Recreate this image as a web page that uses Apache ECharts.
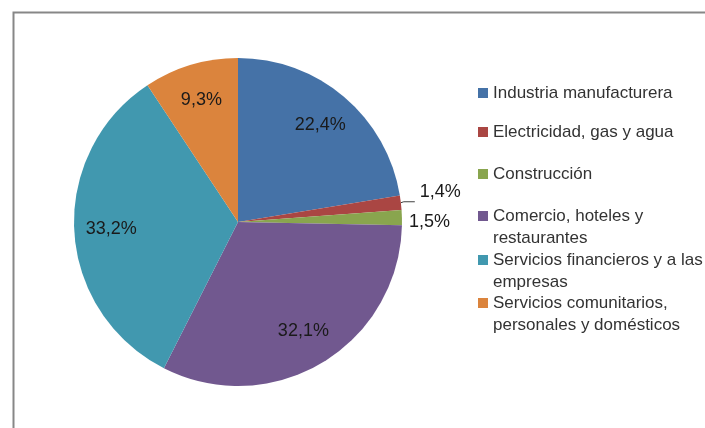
<!DOCTYPE html>
<html>
<head>
<meta charset="utf-8">
<script src="https://cdn.jsdelivr.net/npm/echarts@6/dist/echarts.min.js"></script>
<style>html,body{margin:0;padding:0;background:#fff}#c{width:705px;height:428px}</style>
</head>
<body>
<div id="c"></div>
<script>
const categories = [
  "Industria manufacturera",
  "Electricidad, gas y agua",
  "Construcción",
  "Comercio, hoteles y restaurantes",
  "Servicios financieros y a las empresas",
  "Servicios comunitarios, personales y domésticos"
];
const legendText = [
  "Industria manufacturera",
  "Electricidad, gas y agua",
  "Construcción",
  "\nComercio, hoteles y\nrestaurantes",
  "\nServicios financieros y a las\nempresas",
  "\nServicios comunitarios,\npersonales y domésticos"
];
const values = [22.4, 1.4, 1.5, 32.1, 33.2, 9.3];
const colors = ["#4572A7", "#AA4643", "#89A54E", "#71588F", "#4198AF", "#DB843D"];

const FONT = "Liberation Sans";
const legendTops = [82, 121, 163, 183, 227, 270];

const chart = echarts.init(document.getElementById('c'), null, {renderer: 'canvas'});

const legends = categories.map((name, i) => ({
  data: [name],
  left: 478,
  top: legendTops[i],
  orient: 'vertical',
  padding: 0,
  itemWidth: 10,
  itemHeight: 10,
  itemGap: 0,
  icon: 'rect',
  selectedMode: false,
  formatter: () => legendText[i],
  textStyle: {fontFamily: FONT, fontSize: 17, color: '#333', lineHeight: 22}
}));

const pieData = categories.map((name, i) => ({
  name, value: values[i], itemStyle: {color: colors[i]}
}));

const labelData = categories.map((name, i) => {
  const small = values[i] < 5;
  const d = {name: name, value: values[i]};
  if (small) {
    d.label = {position: 'outside'};
    if (i === 1) {
      d.labelLine = {show: true, length: 8, length2: 11, lineStyle: {color: '#404040', width: 1}};
    } else {
      d.labelLine = {show: false, length: 3, length2: 4};
    }
  }
  return d;
});

chart.setOption({
  animation: false,
  backgroundColor: '#fff',
  color: colors,
  graphic: [{
    type: 'rect', left: 11, top: 10,
    shape: {x: 0, y: 0, width: 800, height: 600},
    style: {fill: 'none', stroke: '#878787', lineWidth: 2},
    silent: true
  }],
  legend: legends,
  series: [
    {
      type: 'pie',
      center: [238, 222],
      radius: [0, 164],
      startAngle: 90,
      clockwise: true,
      label: {show: false},
      labelLine: {show: false},
      itemStyle: {borderWidth: 0},
      emphasis: {disabled: true},
      data: pieData
    },
    {
      type: 'pie',
      center: [238, 222],
      radius: [84, 164],
      startAngle: 90,
      clockwise: true,
      silent: true,
      itemStyle: {color: 'rgba(0,0,0,0)', borderWidth: 0},
      emphasis: {disabled: true},
      label: {
        show: true,
        position: 'inside',
        fontFamily: FONT,
        fontSize: 18,
        color: '#1a1a1a',
        formatter: p => p.value.toFixed(1).replace('.', ',') + '%'
      },
      labelLine: {show: false},
      labelLayout: p => (p.dataIndex === 1 ? {dy: -10} : {}),
      legendHoverLink: false,
      data: labelData
    }
  ]
});
</script>
</body>
</html>
